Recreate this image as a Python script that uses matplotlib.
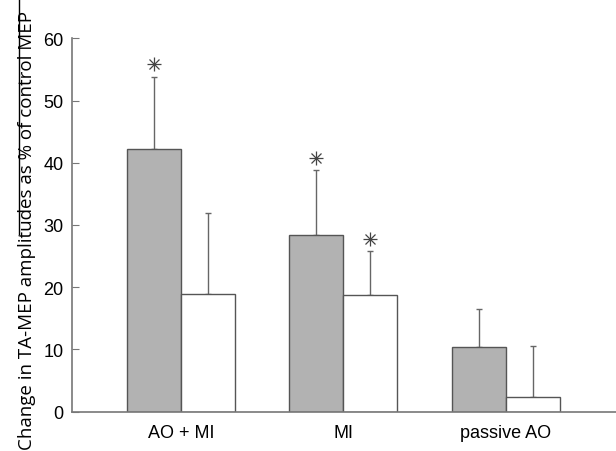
import matplotlib
matplotlib.use("Agg")
import matplotlib.pyplot as plt
import numpy as np

categories = ["AO + MI", "MI", "passive AO"]
gray_means = [42.2, 28.4, 10.4]
gray_err = [11.6, 10.4, 6.1]
white_means = [18.9, 18.8, 2.3]
white_err = [13.1, 7.0, 8.2]
gray_star = [True, True, False]
white_star = [False, True, False]
star_pad = 2.0

fig = plt.figure(figsize=(6.16, 4.52), dpi=100)
ax = fig.add_axes([72/616, 1-412.7/452, 1-72/616, (412.7-39.3)/452])

x = np.arange(len(categories))
w = 0.333
edge = "#555555"
ecol = "#666666"
ax.bar(x - w/2, gray_means, w, color="#b2b2b2", edgecolor=edge, linewidth=1.0, zorder=2)
ax.bar(x + w/2, white_means, w, color="white", edgecolor=edge, linewidth=1.0, zorder=2)
ax.errorbar(x - w/2, gray_means, yerr=[np.zeros(3), gray_err], fmt="none",
            ecolor=ecol, elinewidth=1.0, capsize=2, capthick=1.0, zorder=1)
ax.errorbar(x + w/2, white_means, yerr=[np.zeros(3), white_err], fmt="none",
            ecolor=ecol, elinewidth=1.0, capsize=2, capthick=1.0, zorder=1)

for i in range(3):
    for flag, m, e, off in [(gray_star[i], gray_means[i], gray_err[i], -w/2),
                            (white_star[i], white_means[i], white_err[i], w/2)]:
        if flag:
            yy = m + e + star_pad
            ax.plot([x[i] + off], [yy], marker="+", ms=10, mew=0.9, color="#444444", zorder=3)
            ax.plot([x[i] + off], [yy], marker="x", ms=7, mew=0.9, color="#444444", zorder=3)

ax.set_xlim(-0.67, 2.68)
ax.set_ylim(0, 60)
ax.set_yticks([0, 10, 20, 30, 40, 50, 60])
ax.set_xticks(x)
ax.set_xticklabels(categories, fontsize=13, family="Liberation Sans")
for lab in ax.get_yticklabels():
    lab.set_family("Liberation Sans")
    lab.set_fontsize(13)
ax.tick_params(axis="y", direction="in", length=5, color="#777777", pad=6)
ax.tick_params(axis="x", length=0, pad=9)
for s in ["top", "right"]:
    ax.spines[s].set_visible(False)
for s in ["left", "bottom"]:
    ax.spines[s].set_color("#777777")
    ax.spines[s].set_linewidth(1.2)

fig.text(27.5/616, 1 - 231/452, "Change in TA-MEP amplitudes as % of control MEP",
         rotation=90, ha="center", va="center", fontsize=13.5, family="Open Sans")
fig.add_artist(plt.Line2D([19.5/616, 19.5/616], [1 - 235/452, 1.0], transform=fig.transFigure,
                          color="black", linewidth=1.0))

fig.savefig("out.png", dpi=100)
